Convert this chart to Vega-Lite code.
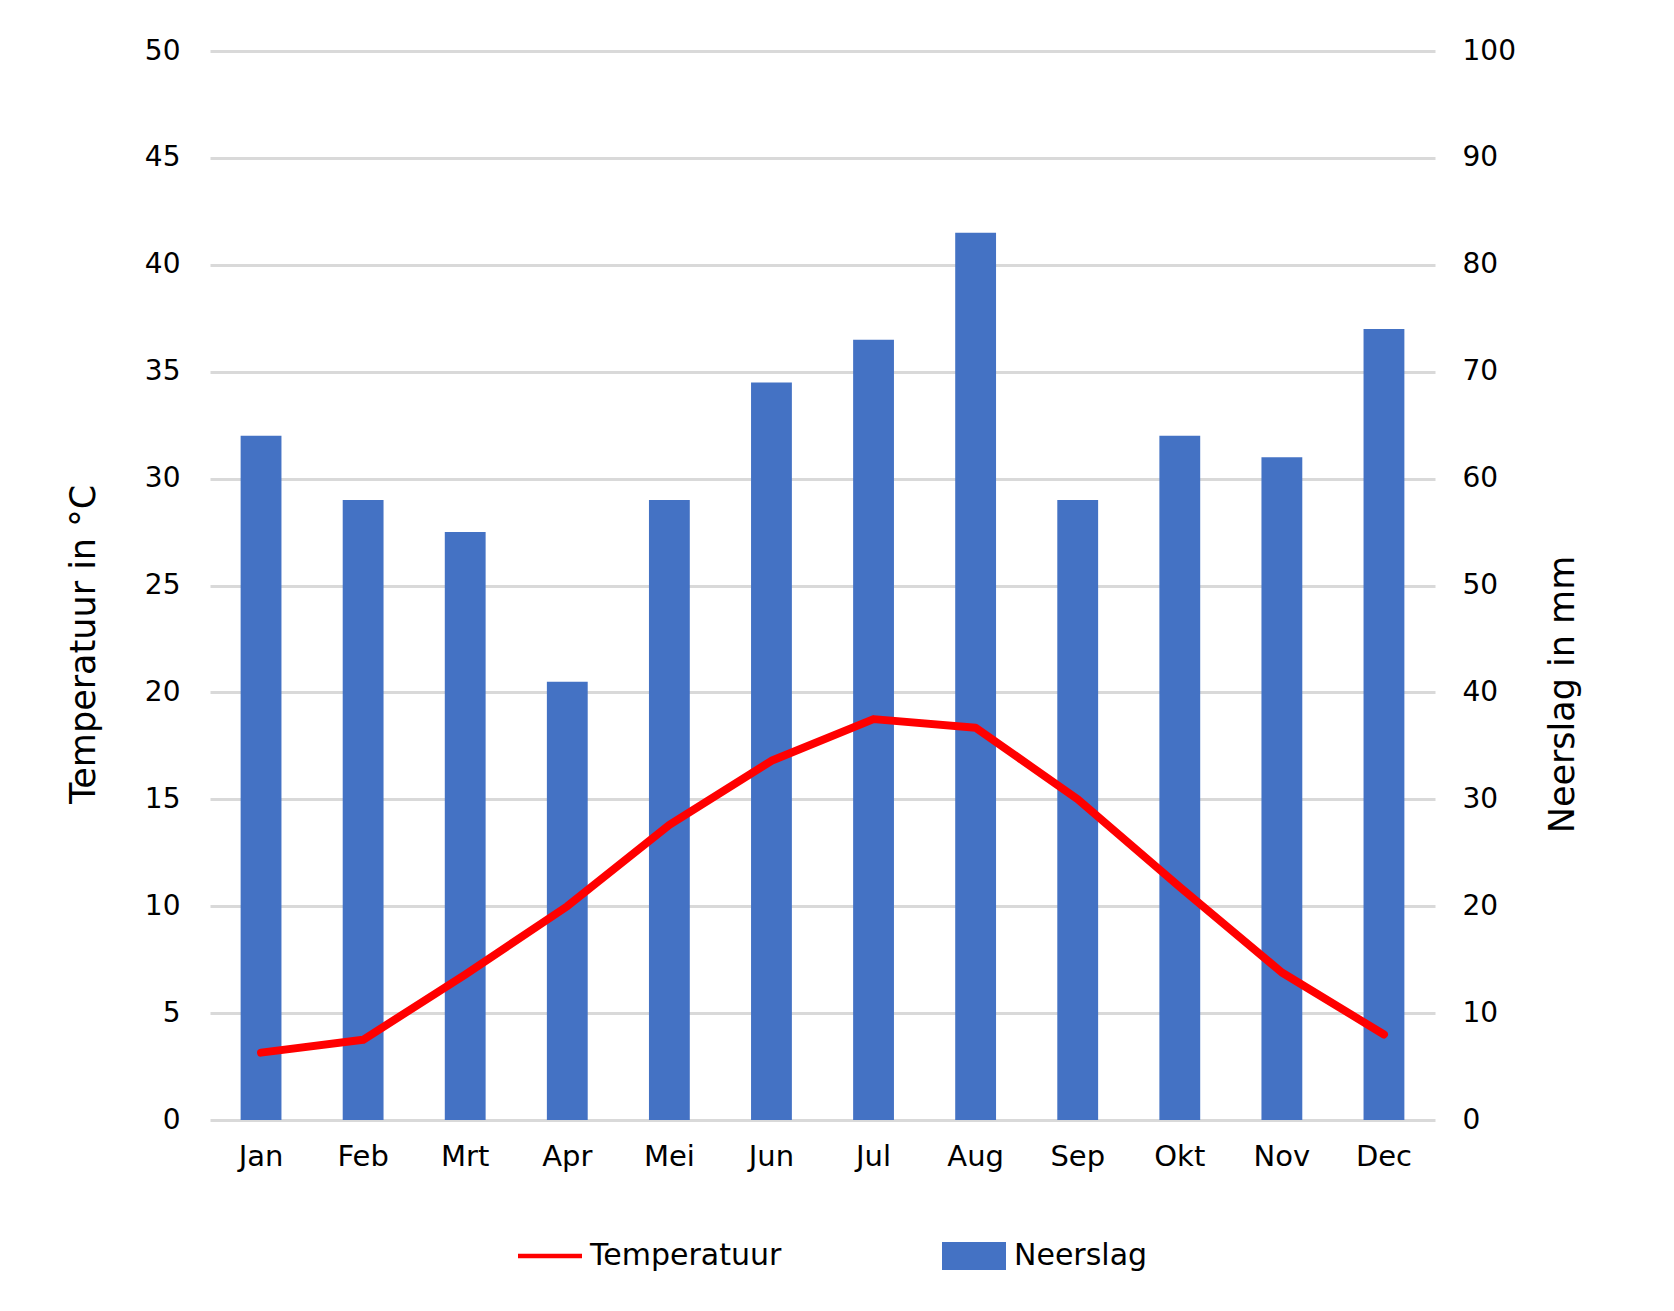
{
  "$schema": "https://vega.github.io/schema/vega-lite/v6.json",
  "width": 1225,
  "height": 1069,
  "autosize": {"type": "none"},
  "padding": {"left": 210, "top": 51, "right": 239, "bottom": 191},
  "background": "white",
  "config": {
    "font": "DejaVu Sans",
    "view": {"stroke": null},
    "axis": {"labelColor": "#000000", "titleColor": "#000000", "titleFontWeight": "normal", "domain": false, "ticks": false}
  },
  "data": {
    "values": [
      {"maand": "Jan", "temperatuur": 3.15, "neerslag": 64},
      {"maand": "Feb", "temperatuur": 3.75, "neerslag": 58},
      {"maand": "Mrt", "temperatuur": 6.8, "neerslag": 55},
      {"maand": "Apr", "temperatuur": 10.0, "neerslag": 41},
      {"maand": "Mei", "temperatuur": 13.8, "neerslag": 58},
      {"maand": "Jun", "temperatuur": 16.8, "neerslag": 69},
      {"maand": "Jul", "temperatuur": 18.75, "neerslag": 73},
      {"maand": "Aug", "temperatuur": 18.35, "neerslag": 83},
      {"maand": "Sep", "temperatuur": 15.0, "neerslag": 58},
      {"maand": "Okt", "temperatuur": 10.9, "neerslag": 64},
      {"maand": "Nov", "temperatuur": 6.9, "neerslag": 62},
      {"maand": "Dec", "temperatuur": 4.0, "neerslag": 74}
    ]
  },
  "encoding": {
    "x": {
      "field": "maand",
      "type": "nominal",
      "sort": null,
      "scale": {"paddingInner": 0.6, "paddingOuter": 0.3},
      "axis": {"title": null, "labelAngle": 0, "labelFontSize": 29, "labelPadding": 22, "grid": false}
    }
  },
  "layer": [
    {
      "mark": {"type": "bar", "color": "#4472c4"},
      "encoding": {
        "y": {
          "field": "neerslag",
          "type": "quantitative",
          "scale": {"domain": [0, 100], "nice": false},
          "axis": {
            "orient": "right",
            "title": "Neerslag in mm",
            "values": [0, 10, 20, 30, 40, 50, 60, 70, 80, 90, 100],
            "grid": false,
            "labelFontSize": 28,
            "labelPadding": 27,
            "titleFontSize": 35,
            "titleAngle": 270,
            "titleBaseline": "bottom",
            "titleY": 643,
            "titlePadding": 65
          }
        },
        "color": {
          "datum": "Neerslag",
          "scale": {"domain": ["Temperatuur", "Neerslag"], "range": ["#ff0000", "#4472c4"]},
          "legend": {
            "title": null,
            "orient": "none",
            "legendX": 308,
            "legendY": 1173,
            "direction": "horizontal",
            "labelFontSize": 30,
            "labelLimit": 0,
            "labelColor": "#000000",
            "symbolSize": 4096,
            "columnPadding": 160,
            "labelOffset": 8,
            "encode": {
              "symbols": {
                "update": {
                  "shape": {"signal": "datum.value === 'Temperatuur' ? 'M-1,-0.07H1V0.07H-1Z' : 'M-1,-0.44H1V0.44H-1Z'"},
                  "fill": {"signal": "datum.value === 'Temperatuur' ? '#ff0000' : '#4472c4'"},
                  "fillOpacity": {"value": 1},
                  "opacity": {"value": 1},
                  "strokeWidth": {"value": 0}
                }
              }
            }
          }
        }
      }
    },
    {
      "mark": {"type": "line", "color": "#ff0000", "strokeWidth": 8, "strokeCap": "round", "strokeJoin": "round"},
      "encoding": {
        "y": {
          "field": "temperatuur",
          "type": "quantitative",
          "scale": {"domain": [0, 50], "nice": false},
          "axis": {
            "orient": "left",
            "title": "Temperatuur in °C",
            "values": [0, 5, 10, 15, 20, 25, 30, 35, 40, 45, 50],
            "grid": true,
            "gridColor": "#d9d9d9",
            "gridWidth": 3,
            "labelFontSize": 28,
            "labelPadding": 30,
            "titleFontSize": 35,
            "titleY": 593,
            "titlePadding": 43
          }
        },
        "color": {"datum": "Temperatuur"}
      }
    }
  ],
  "resolve": {"scale": {"y": "independent"}}
}
